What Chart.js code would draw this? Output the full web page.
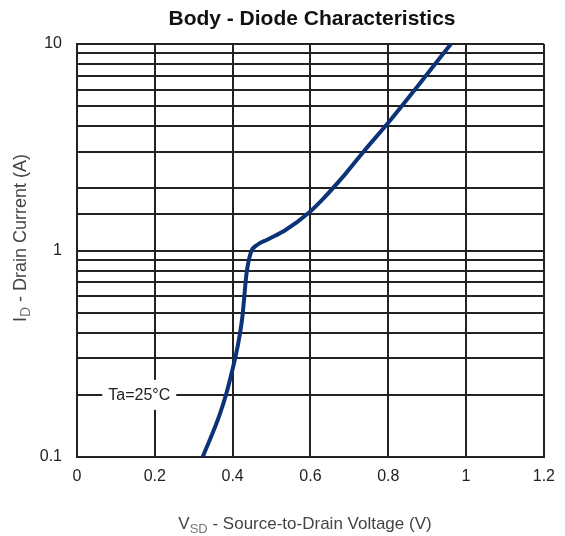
<!DOCTYPE html>
<html lang="en">
<head>
  <meta charset="UTF-8">
  <title>Body - Diode Characteristics</title>
  <script src="https://cdn.jsdelivr.net/npm/chart.js"></script>
  <style>
    body {
      margin: 0;
      background: #fff;
    }
    #wrap {
      width: 565px;
      height: 536px;
    }
  </style>
</head>
<body>
  <div id="wrap"><canvas id="diodeChart"></canvas></div>

  <script>
    // curve
    const vsd = [0.323, 0.368, 0.393, 0.424, 0.436, 0.447, 0.462, 0.490, 0.537, 0.595, 0.630, 0.690, 0.739, 0.802, 0.877, 0.961];
    const idrain = [0.10, 0.163, 0.236, 0.46, 0.78, 0.98, 1.06, 1.13, 1.26, 1.52, 1.76, 2.35, 3.05, 4.2, 6.3, 10];

    const xTickLabels = ['0', '0.2', '0.4', '0.6', '0.8', '1', '1.2'];
    const yTickLabels = ['0.1', '1', '10'];

    const chartTitle = 'Body - Diode Characteristics';
    const noteText = 'Ta=25°C';
    const noteAt = { x: 0.16, y: 0.2 };

    const FONT = '"Liberation Sans", Arial, sans-serif';
    const isDecade = v => Math.abs(Math.log10(v) - Math.round(Math.log10(v))) < 1e-9;

    // title, axis titles with subscripts, and the Ta note on its grid line
    const textPlugin = {
      id: 'textPlugin',
      afterDraw(chart) {
        const ctx = chart.ctx;
        const a = chart.chartArea;
        const xs = chart.scales.x, ys = chart.scales.y;
        ctx.save();

        ctx.fillStyle = '#111';
        ctx.font = 'bold 21px ' + FONT;
        ctx.textAlign = 'center';
        ctx.textBaseline = 'middle';
        ctx.fillText(chartTitle, 312, 19);

        // note box breaks the grid lines around it
        ctx.font = '16px ' + FONT;
        const nx = xs.getPixelForValue(noteAt.x);
        const ny = ys.getPixelForValue(noteAt.y);
        const nw = ctx.measureText(noteText).width;
        ctx.fillStyle = '#fff';
        ctx.fillRect(nx - nw / 2 - 6, ny - 15, nw + 12, 30);
        ctx.fillStyle = '#222';
        ctx.fillText(noteText, nx, ny + 1);

        const drawSub = (parts, cx, cy, size) => {
          const subSize = Math.round(size * 0.75);
          let total = 0;
          parts.forEach(p => {
            ctx.font = (p.sub ? subSize : size) + 'px ' + FONT;
            total += ctx.measureText(p.t).width;
          });
          let x = cx - total / 2;
          ctx.textAlign = 'left';
          parts.forEach(p => {
            ctx.font = (p.sub ? subSize : size) + 'px ' + FONT;
            ctx.fillStyle = p.sub ? '#777' : '#444';
            ctx.fillText(p.t, x, cy + (p.sub ? 5 : 0));
            x += ctx.measureText(p.t).width;
          });
        };

        drawSub([{ t: 'V' }, { t: 'SD', sub: true }, { t: ' - Source-to-Drain Voltage (V)' }], 305, 524, 17);

        ctx.translate(21, 238);
        ctx.rotate(-Math.PI / 2);
        drawSub([{ t: 'I' }, { t: 'D', sub: true }, { t: ' - Drain Current (A)' }], 0, 0, 18);

        ctx.restore();
      }
    };

    new Chart(document.getElementById('diodeChart'), {
      type: 'line',
      data: {
        datasets: [{
          data: vsd.map((v, i) => ({ x: v, y: idrain[i] })),
          borderColor: '#0c3278',
          borderWidth: 4,
          pointRadius: 0,
          cubicInterpolationMode: 'monotone',
          fill: false
        }]
      },
      options: {
        responsive: true,
        maintainAspectRatio: false,
        animation: false,
        layout: { padding: { top: 44, right: 12, left: 0, bottom: 0 } },
        plugins: {
          legend: { display: false },
          tooltip: { enabled: false }
        },
        scales: {
          x: {
            type: 'linear',
            min: 0,
            max: 1.2,
            afterFit: s => { s.height = 79; },
            ticks: {
              stepSize: 0.2,
              padding: 10,
              color: '#222',
              font: { family: FONT, size: 16 },
              callback: (v, i) => xTickLabels[i]
            },
            grid: { color: '#222', lineWidth: 2, drawTicks: false },
            border: { color: '#222', width: 2 }
          },
          y: {
            type: 'logarithmic',
            min: 0.1,
            max: 10,
            afterFit: s => { s.width = 77; },
            ticks: {
              padding: 15,
              autoSkip: false,
              color: '#222',
              font: { family: FONT, size: 16 },
              callback: v => isDecade(v) ? yTickLabels[Math.round(Math.log10(v)) + 1] : ''
            },
            grid: { color: '#222', lineWidth: 2, drawTicks: false },
            border: { color: '#222', width: 2 }
          }
        }
      },
      plugins: [textPlugin]
    });
  </script>
</body>
</html>
